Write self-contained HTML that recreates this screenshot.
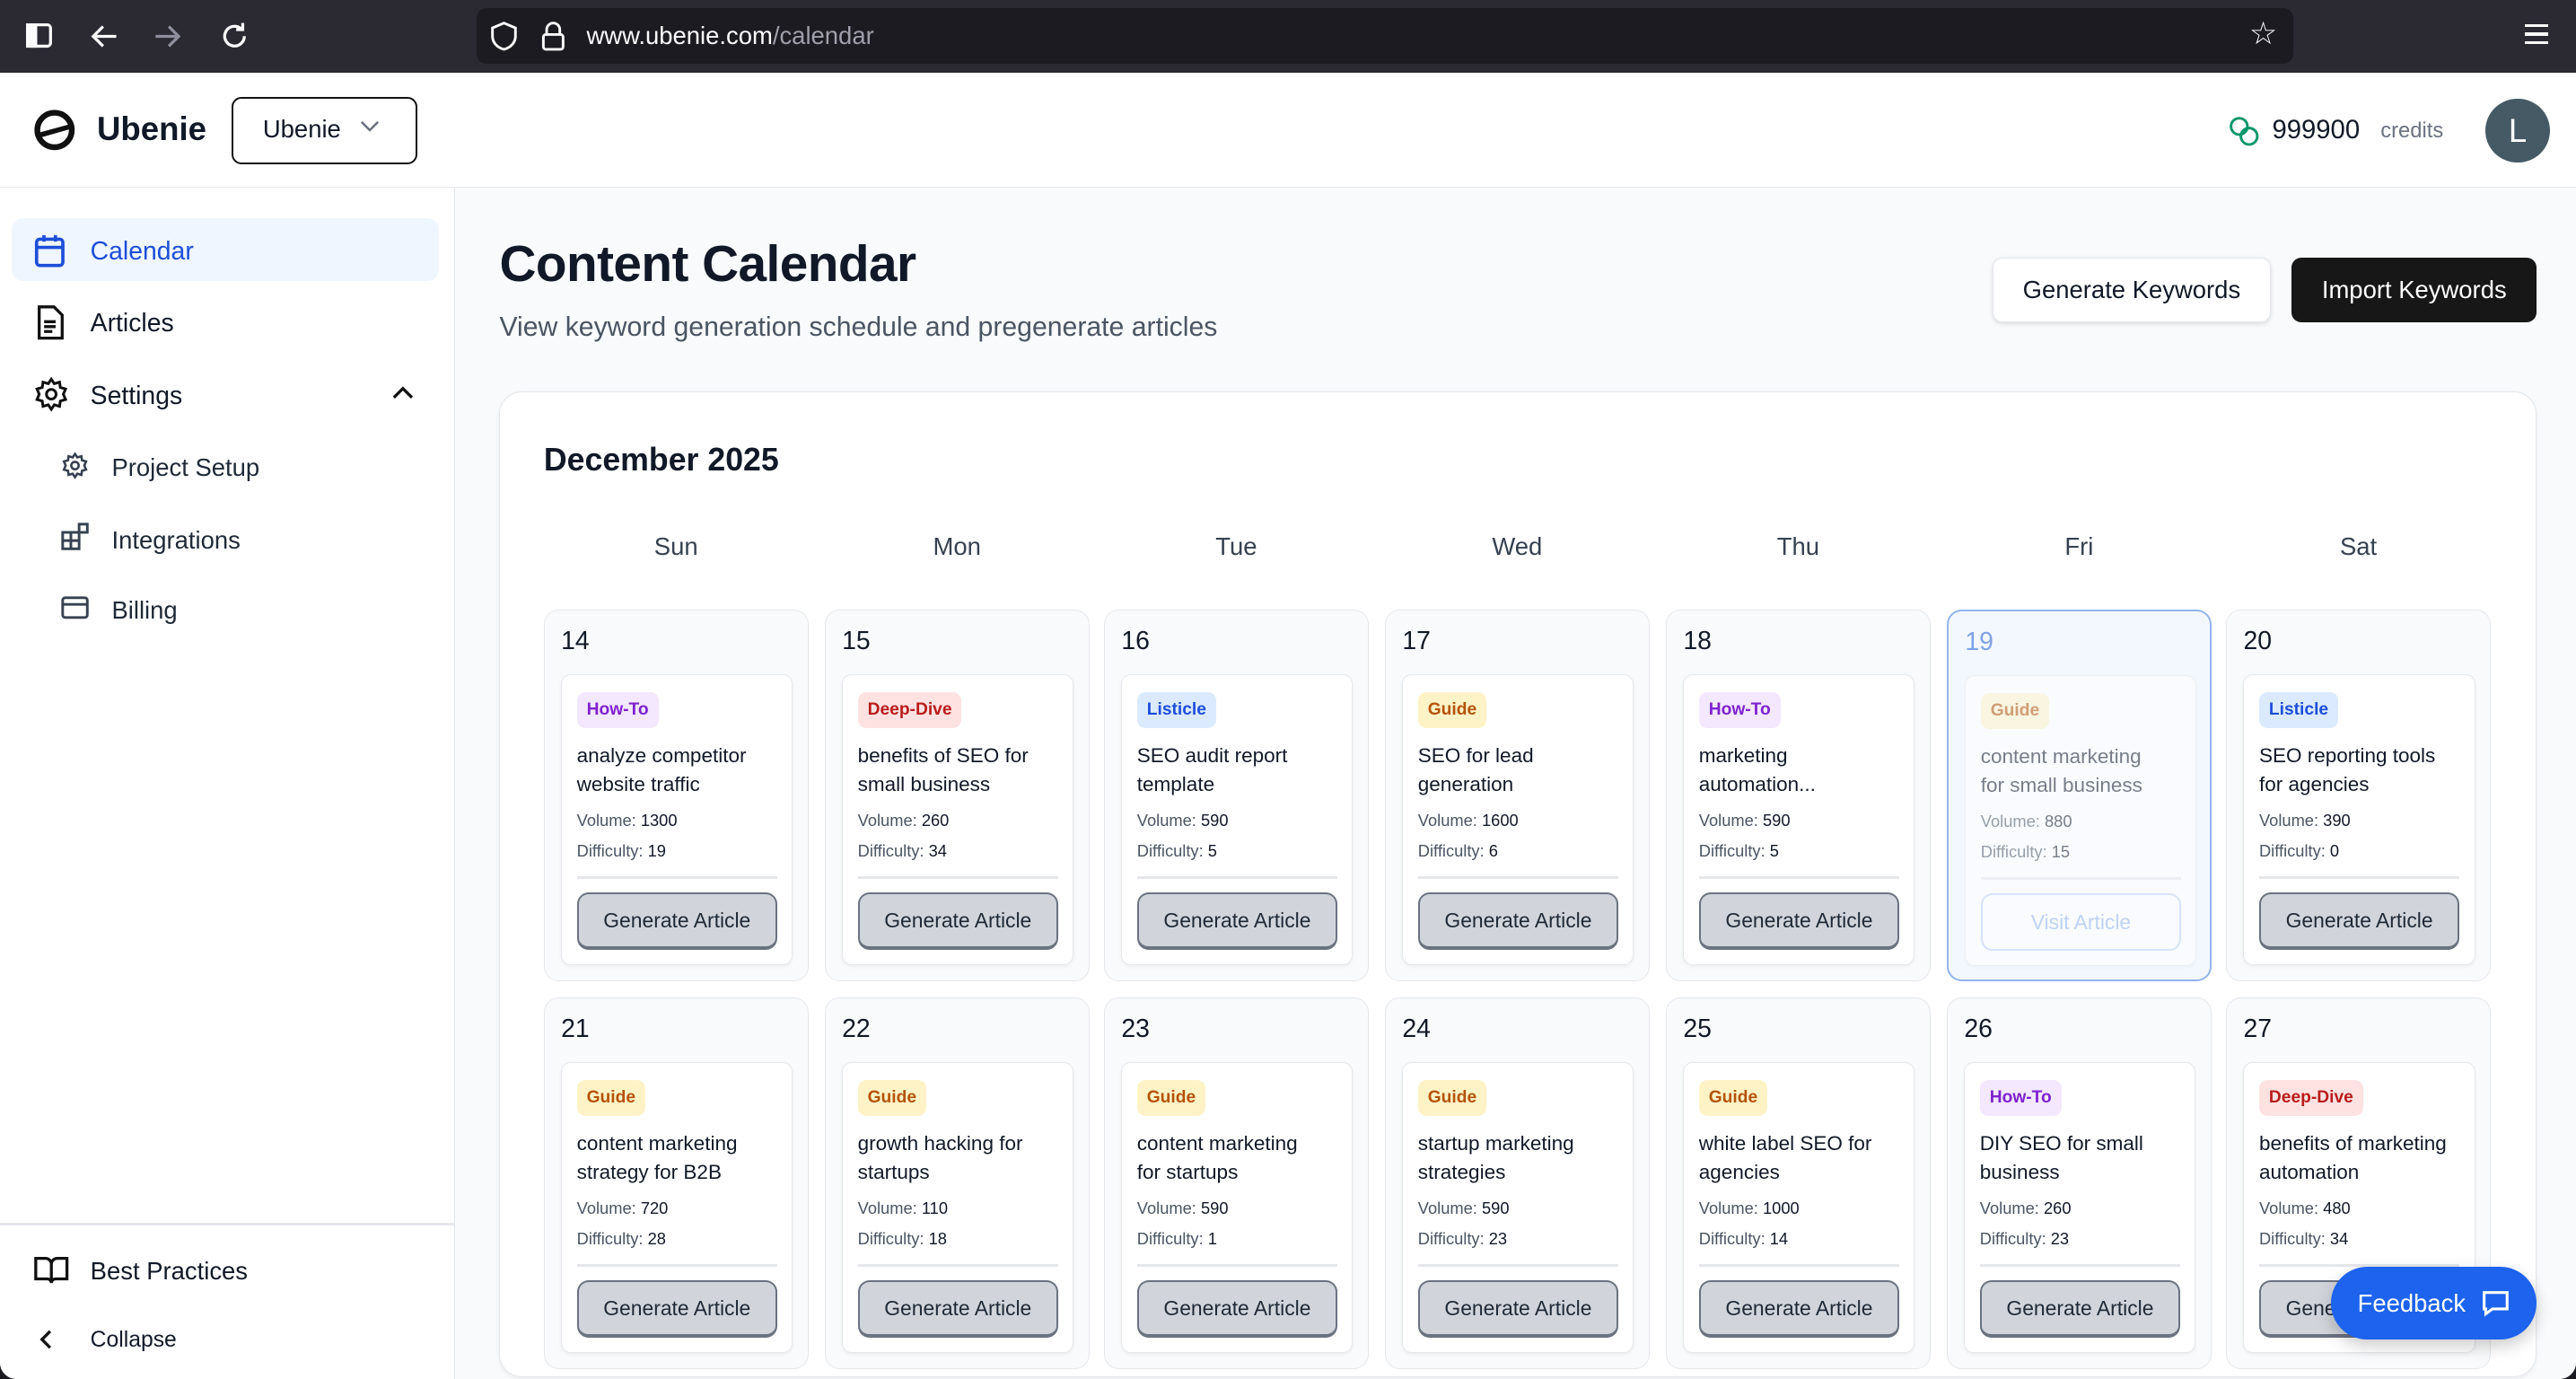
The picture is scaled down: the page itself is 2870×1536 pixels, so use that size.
<!DOCTYPE html>
<html><head><meta charset="utf-8">
<style>
*{box-sizing:border-box;margin:0;padding:0}
html,body{width:2870px;height:1536px;overflow:hidden;background:#1c1b22}
#root{position:absolute;left:0;top:0;width:1568px;height:839.2px;zoom:1.8304;font-family:"Liberation Sans",sans-serif;color:#111827;overflow:hidden;background:#fff;border-radius:0 0 10px 10px}
.abs{position:absolute}
.bar{left:0;top:0;width:1568px;height:44px;background:#2b2a33}
.url{left:290px;top:5px;width:1106px;height:34px;background:#1c1b22;border-radius:6px}
.hdr{left:0;top:44px;width:1568px;height:70px;background:#fff;border-bottom:1px solid #e5e7eb}
.side{left:0;top:114px;width:277px;height:726px;background:#fff;border-right:1px solid #e5e7eb}
.main{left:277px;top:114px;width:1291px;height:726px;background:#f8fafc}
.nav{position:absolute;left:55px;font-size:15.5px;color:#111827}
.sub{position:absolute;left:68px;font-size:15px;color:#1f2937}
.btn{position:absolute;border-radius:6px;font-size:15px;display:flex;align-items:center;justify-content:center}
.cell{position:absolute;width:161px;height:226px;border:1px solid #e5e7eb;border-radius:9px;background:#f9fafb}
.num{position:absolute;left:10px;top:10px;font-size:15.5px;font-weight:500}
.card{position:absolute;left:10px;top:39px;width:141px;height:177px;background:#fff;border:1px solid #e5e7eb;border-radius:6px;box-shadow:0 1px 2px rgba(0,0,0,.05)}
.bd{position:absolute;left:9px;top:10px;height:22px;padding:0 6px;border-radius:5px;font-size:10.5px;font-weight:bold;line-height:22px}
.howto{background:#f3e8ff;color:#7e22ce}.deep{background:#fee2e2;color:#b91c1c}.list{background:#dbeafe;color:#1d4ed8}.guide{background:#fef3c7;color:#b45309}
.tt{position:absolute;left:9px;top:40px;width:128px;font-size:12.3px;line-height:17.5px;white-space:nowrap;overflow:hidden;color:#111827}
.vl{position:absolute;left:9px;font-size:10px;color:#4b5563;white-space:nowrap}
.vl b{color:#111827;font-weight:500}
.dv{position:absolute;left:9px;right:9px;top:122px;height:2px;background:#e5e7eb}
.ga{position:absolute;left:9px;top:132px;width:122px;height:35px;background:#d1d5db;border:1.5px solid #6b7280;border-bottom-width:2.5px;border-radius:7px;font-size:12.5px;color:#1f2937;display:flex;align-items:center;justify-content:center}
.dh{position:absolute;top:324px;width:161px;text-align:center;font-size:15px;color:#374151}
</style></head><body><div id="root">
<div class="abs bar"></div>
<svg class="abs" style="left:15px;top:13px" width="100" height="18" viewBox="0 0 100 18" fill="none" stroke="#fbfbfe" stroke-width="1.8">
<rect x="2" y="2" width="14" height="13" rx="2"/><path d="M2 2h5v13H2z" fill="#fbfbfe"/>
<path d="M56 9H42M48 3l-6 6 6 6"/><path d="M80 9h14M88 3l6 6-6 6" stroke="#8f8f9d"/>
</svg>
<svg class="abs" style="left:133px;top:12px" width="20" height="20" viewBox="0 0 20 20" fill="none" stroke="#fbfbfe" stroke-width="1.8"><path d="M16 10a6 6 0 1 1-2-4.5M15 2v4h-4"/></svg>
<div class="abs url"></div>
<svg class="abs" style="left:298px;top:12px" width="50" height="20" viewBox="0 0 50 20" fill="none" stroke="#fbfbfe" stroke-width="1.6"><path d="M9 2l7 3v5c0 4-3 7-7 8-4-1-7-4-7-8V5z"/><rect x="33" y="9" width="12" height="9" rx="1.5"/><path d="M35 9V6a4 4 0 0 1 8 0v3"/></svg>
<div class="abs" style="left:357px;top:13px;font-size:15px;color:#fbfbfe">www.ubenie.com<span style="color:#a0a0ab">/calendar</span></div>
<div class="abs" style="left:1369px;top:10px;font-size:19px;color:#fbfbfe">☆</div>
<div class="abs" style="left:1537px;top:15px;width:14px;height:12px;border-top:2px solid #fbfbfe;border-bottom:2px solid #fbfbfe"><div style="margin-top:3px;height:2px;background:#fbfbfe"></div></div>

<div class="abs hdr"></div>
<svg class="abs" style="left:20px;top:66px" width="26" height="26" viewBox="0 0 26 26"><circle cx="13" cy="13" r="10.5" fill="none" stroke="#111" stroke-width="3.5"/><path d="M2 15 L24 9 L24 12 L3 18z" fill="#111"/></svg>
<div class="abs" style="left:59px;top:67px;font-size:20px;font-weight:bold">Ubenie</div>
<div class="abs" style="left:141px;top:59px;width:113px;height:41px;border:1.5px solid #111;border-radius:6px"></div>
<div class="abs" style="left:160px;top:70px;font-size:15px">Ubenie</div>
<svg class="abs" style="left:219px;top:73px" width="12" height="8" viewBox="0 0 12 8" fill="none" stroke="#6b7280" stroke-width="1.4"><path d="M1 1l5 5 5-5"/></svg>
<svg class="abs" style="left:1356px;top:70px" width="20" height="20" viewBox="0 0 20 20" fill="none" stroke="#059669" stroke-width="1.6"><circle cx="7" cy="7" r="5"/><circle cx="13" cy="13" r="5"/></svg>
<div class="abs" style="left:1383px;top:70px;font-size:16px;font-weight:500">999900</div>
<div class="abs" style="left:1449px;top:72px;font-size:13px;color:#6b7280">credits</div>
<div class="abs" style="left:1513px;top:60px;width:39px;height:39px;border-radius:50%;background:#455a64;color:#fff;font-size:20px;display:flex;align-items:center;justify-content:center">L</div>

<div class="abs side"></div>
<div class="abs" style="left:7px;top:133px;width:260px;height:38px;background:#eff6ff;border-radius:7px"></div>
<svg class="abs" style="left:21px;top:142px" width="19" height="21" viewBox="0 0 19 21" fill="none" stroke="#1d4ed8" stroke-width="2"><rect x="1.5" y="3.5" width="16" height="16" rx="2"/><path d="M1.5 8.5h16M6 1v4M13 1v4"/></svg>
<div class="nav" style="top:144px;color:#1d4ed8">Calendar</div>
<svg class="abs" style="left:22px;top:186px" width="17" height="21" viewBox="0 0 17 21" fill="none" stroke="#111" stroke-width="1.8"><path d="M2 1h9l5 5v14H2z"/><path d="M5 10h7M5 13h7M5 16h5"/></svg>
<div class="nav" style="top:188px">Articles</div>
<svg class="abs" style="left:20px;top:229px" width="22" height="22" viewBox="0 0 24 24" fill="none" stroke="#111" stroke-width="1.8"><circle cx="12" cy="12" r="3.2"/><path d="M12 2l2 3 3.5-1 .5 3.5 3.5 1-1.5 3.5 1.5 3.5-3.5 1-.5 3.5-3.5-1-2 3-2-3-3.5 1-.5-3.5-3.5-1L4 12 2.5 8.5l3.5-1L6.5 4 10 5z"/></svg>
<div class="nav" style="top:232px">Settings</div>
<svg class="abs" style="left:239px;top:235px" width="13" height="8" viewBox="0 0 13 8" fill="none" stroke="#111" stroke-width="1.8"><path d="M1 7l5.5-5.5L12 7"/></svg>
<svg class="abs" style="left:37px;top:275px" width="17" height="17" viewBox="0 0 24 24" fill="none" stroke="#374151" stroke-width="2"><circle cx="12" cy="12" r="3.2"/><path d="M12 2l2 3 3.5-1 .5 3.5 3.5 1-1.5 3.5 1.5 3.5-3.5 1-.5 3.5-3.5-1-2 3-2-3-3.5 1-.5-3.5-3.5-1L4 12 2.5 8.5l3.5-1L6.5 4 10 5z"/></svg>
<div class="sub" style="top:276px">Project Setup</div>
<svg class="abs" style="left:37px;top:318px" width="17" height="17" viewBox="0 0 17 17" fill="none" stroke="#374151" stroke-width="1.6"><rect x="1" y="6" width="10" height="10"/><path d="M6 6v10M1 11h10"/><rect x="11" y="1" width="5" height="5"/></svg>
<div class="sub" style="top:320px">Integrations</div>
<svg class="abs" style="left:37px;top:363px" width="17" height="14" viewBox="0 0 17 14" fill="none" stroke="#374151" stroke-width="1.6"><rect x="1" y="1" width="15" height="12" rx="1.5"/><path d="M1 5h15"/></svg>
<div class="sub" style="top:363px">Billing</div>
<div class="abs" style="left:0;top:744px;width:277px;height:2px;background:#e5e7eb"></div>
<svg class="abs" style="left:21px;top:764px" width="21" height="18" viewBox="0 0 21 18" fill="none" stroke="#111" stroke-width="1.8"><path d="M1 2h6a3.5 3.5 0 0 1 3.5 3.5V17A2.5 2.5 0 0 0 8 14.5H1zM20 2h-6a3.5 3.5 0 0 0-3.5 3.5V17a2.5 2.5 0 0 1 2.5-2.5H20z"/></svg>
<div class="nav" style="top:765px;font-size:15px">Best Practices</div>
<svg class="abs" style="left:24px;top:809px" width="8" height="12" viewBox="0 0 8 12" fill="none" stroke="#111" stroke-width="1.8"><path d="M6.5 1L1.5 6l5 5"/></svg>
<div class="nav" style="top:808px;font-size:13.5px">Collapse</div>

<div class="abs main"></div>
<div class="abs" style="left:304px;top:143px;font-size:31px;font-weight:bold;letter-spacing:-0.3px">Content Calendar</div>
<div class="abs" style="left:304px;top:190px;font-size:16.5px;color:#4b5563">View keyword generation schedule and pregenerate articles</div>
<div class="btn" style="left:1213px;top:157px;width:169px;height:39px;background:#fff;border:1px solid #e5e7eb;box-shadow:0 1px 3px rgba(0,0,0,.12)">Generate Keywords</div>
<div class="btn" style="left:1395px;top:157px;width:149px;height:39px;background:#171717;color:#fff">Import Keywords</div>

<div class="abs" style="left:304px;top:238px;width:1240px;height:600px;background:#fff;border:1px solid #e5e7eb;border-radius:14px;box-shadow:0 1px 3px rgba(0,0,0,.06)"></div>
<div class="abs" style="left:331px;top:269px;font-size:19.5px;font-weight:bold">December 2025</div>
<div class="dh" style="left:331px">Sun</div><div class="dh" style="left:502px">Mon</div><div class="dh" style="left:672px">Tue</div><div class="dh" style="left:843px">Wed</div><div class="dh" style="left:1014px">Thu</div><div class="dh" style="left:1185px">Fri</div><div class="dh" style="left:1355px">Sat</div>

<!-- row 1 -->
<div class="cell" style="left:331px;top:371px"><div class="num">14</div><div class="card"><div class="bd howto">How-To</div><div class="tt">analyze competitor<br>website traffic</div><div class="vl" style="top:82px">Volume: <b>1300</b></div><div class="vl" style="top:101px">Difficulty: <b>19</b></div><div class="dv"></div><div class="ga">Generate Article</div></div></div>
<div class="cell" style="left:502px;top:371px"><div class="num">15</div><div class="card"><div class="bd deep">Deep-Dive</div><div class="tt">benefits of SEO for<br>small business</div><div class="vl" style="top:82px">Volume: <b>260</b></div><div class="vl" style="top:101px">Difficulty: <b>34</b></div><div class="dv"></div><div class="ga">Generate Article</div></div></div>
<div class="cell" style="left:672px;top:371px"><div class="num">16</div><div class="card"><div class="bd list">Listicle</div><div class="tt">SEO audit report<br>template</div><div class="vl" style="top:82px">Volume: <b>590</b></div><div class="vl" style="top:101px">Difficulty: <b>5</b></div><div class="dv"></div><div class="ga">Generate Article</div></div></div>
<div class="cell" style="left:843px;top:371px"><div class="num">17</div><div class="card"><div class="bd guide">Guide</div><div class="tt">SEO for lead<br>generation</div><div class="vl" style="top:82px">Volume: <b>1600</b></div><div class="vl" style="top:101px">Difficulty: <b>6</b></div><div class="dv"></div><div class="ga">Generate Article</div></div></div>
<div class="cell" style="left:1014px;top:371px"><div class="num">18</div><div class="card"><div class="bd howto">How-To</div><div class="tt">marketing<br>automation...</div><div class="vl" style="top:82px">Volume: <b>590</b></div><div class="vl" style="top:101px">Difficulty: <b>5</b></div><div class="dv"></div><div class="ga">Generate Article</div></div></div>
<div class="cell" style="left:1185px;top:371px;border:1.5px solid #93b4ec;background:#f3f8ff"><div class="num" style="color:#7ea2e6">19</div><div class="card" style="opacity:.55"><div class="bd guide">Guide</div><div class="tt">content marketing<br>for small business</div><div class="vl" style="top:82px">Volume: <b>880</b></div><div class="vl" style="top:101px">Difficulty: <b>15</b></div><div class="dv"></div><div class="ga" style="background:#fff;border:1.5px solid #bfd3f5;color:#93b4ec">Visit Article</div></div></div>
<div class="cell" style="left:1355px;top:371px"><div class="num">20</div><div class="card"><div class="bd list">Listicle</div><div class="tt">SEO reporting tools<br>for agencies</div><div class="vl" style="top:82px">Volume: <b>390</b></div><div class="vl" style="top:101px">Difficulty: <b>0</b></div><div class="dv"></div><div class="ga">Generate Article</div></div></div>

<!-- row 2 -->
<div class="cell" style="left:331px;top:607px"><div class="num">21</div><div class="card"><div class="bd guide">Guide</div><div class="tt">content marketing<br>strategy for B2B</div><div class="vl" style="top:82px">Volume: <b>720</b></div><div class="vl" style="top:101px">Difficulty: <b>28</b></div><div class="dv"></div><div class="ga">Generate Article</div></div></div>
<div class="cell" style="left:502px;top:607px"><div class="num">22</div><div class="card"><div class="bd guide">Guide</div><div class="tt">growth hacking for<br>startups</div><div class="vl" style="top:82px">Volume: <b>110</b></div><div class="vl" style="top:101px">Difficulty: <b>18</b></div><div class="dv"></div><div class="ga">Generate Article</div></div></div>
<div class="cell" style="left:672px;top:607px"><div class="num">23</div><div class="card"><div class="bd guide">Guide</div><div class="tt">content marketing<br>for startups</div><div class="vl" style="top:82px">Volume: <b>590</b></div><div class="vl" style="top:101px">Difficulty: <b>1</b></div><div class="dv"></div><div class="ga">Generate Article</div></div></div>
<div class="cell" style="left:843px;top:607px"><div class="num">24</div><div class="card"><div class="bd guide">Guide</div><div class="tt">startup marketing<br>strategies</div><div class="vl" style="top:82px">Volume: <b>590</b></div><div class="vl" style="top:101px">Difficulty: <b>23</b></div><div class="dv"></div><div class="ga">Generate Article</div></div></div>
<div class="cell" style="left:1014px;top:607px"><div class="num">25</div><div class="card"><div class="bd guide">Guide</div><div class="tt">white label SEO for<br>agencies</div><div class="vl" style="top:82px">Volume: <b>1000</b></div><div class="vl" style="top:101px">Difficulty: <b>14</b></div><div class="dv"></div><div class="ga">Generate Article</div></div></div>
<div class="cell" style="left:1185px;top:607px"><div class="num">26</div><div class="card"><div class="bd howto">How-To</div><div class="tt">DIY SEO for small<br>business</div><div class="vl" style="top:82px">Volume: <b>260</b></div><div class="vl" style="top:101px">Difficulty: <b>23</b></div><div class="dv"></div><div class="ga">Generate Article</div></div></div>
<div class="cell" style="left:1355px;top:607px"><div class="num">27</div><div class="card"><div class="bd deep">Deep-Dive</div><div class="tt">benefits of marketing<br>automation</div><div class="vl" style="top:82px">Volume: <b>480</b></div><div class="vl" style="top:101px">Difficulty: <b>34</b></div><div class="dv"></div><div class="ga">Generate Article</div></div></div>

<div class="btn" style="left:1419px;top:771px;width:125px;height:44px;border-radius:22px;background:#1d63ed;color:#fff;font-size:15px;justify-content:flex-start;padding-left:16px;box-shadow:0 4px 10px rgba(0,0,0,.2)">Feedback
<svg style="margin-left:9px" width="18" height="17" viewBox="0 0 18 17" fill="none" stroke="#fff" stroke-width="1.7"><path d="M2 2h14v10H7l-4 3v-3H2z"/></svg></div>
</div></body></html>
